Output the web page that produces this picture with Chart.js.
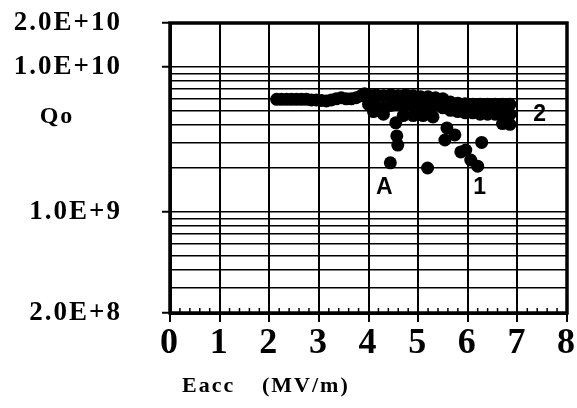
<!DOCTYPE html>
<html><head><meta charset="utf-8">
<script src="https://cdn.jsdelivr.net/npm/chart.js@4"></script>
<style>html,body{margin:0;padding:0;background:#fff}#wrap{width:577px;height:408px;position:relative}</style>
</head><body><div id="wrap"><canvas id="c"></canvas></div>
<script>
// ---- axis definitions ----
const xTickValues = [0, 1, 2, 3, 4, 5, 6, 7, 8];
const yGridValues = [2e8, 3e8, 4e8, 5e8, 6e8, 7e8, 8e8, 9e8, 1e9, 2e9, 3e9, 4e9, 5e9, 6e9, 7e9, 8e9, 9e9, 1e10, 2e10];
const yLabelValues = [2e10, 1e10, 1e9, 2e8];
const yLabelTexts = ['2.0E+10', '1.0E+10', '1.0E+9', '2.0E+8'];
const xTitleParts = ['Eacc', '(MV/m)'];
const yTitle = 'Qo';

// ---- data: Eacc (MV/m) and Qo ----
const bandX = [2.15, 2.25, 2.35, 2.45, 2.55, 2.65, 2.75, 2.85, 2.95, 3.05, 3.15, 3.25, 3.35, 3.45, 3.55, 3.65, 3.75, 3.85, 3.92];
const bandQ = [5.95e9, 5.95e9, 5.95e9, 5.95e9, 5.95e9, 5.95e9, 5.95e9, 5.9e9, 5.9e9, 5.85e9, 5.8e9, 5.9e9, 6.0e9, 6.1e9, 6.0e9, 6.0e9, 6.1e9, 6.3e9, 6.5e9];
const topRowX = [4.0, 4.15, 4.3, 4.45, 4.6, 4.75, 4.9, 5.05, 5.2, 5.35, 5.5, 5.65, 5.8, 5.95, 6.1, 6.25, 6.4, 6.55, 6.7, 6.85];
const topRowQ = [6.4e9, 6.4e9, 6.3e9, 6.4e9, 6.3e9, 6.4e9, 6.3e9, 6.2e9, 6.2e9, 6.1e9, 6.0e9, 5.7e9, 5.6e9, 5.55e9, 5.5e9, 5.5e9, 5.5e9, 5.5e9, 5.5e9, 5.5e9];
const midRowX = [4.0, 4.15, 4.3, 4.45, 4.6, 4.75, 4.9, 5.05, 5.2, 5.35, 5.5, 5.65, 5.8, 5.95, 6.1, 6.25, 6.4, 6.55, 6.7, 6.85];
const midRowQ = [5.5e9, 5.4e9, 5.2e9, 5.4e9, 5.5e9, 5.4e9, 5.3e9, 5.4e9, 5.3e9, 5.4e9, 5.2e9, 5.0e9, 4.9e9, 4.8e9, 4.8e9, 4.7e9, 4.7e9, 4.7e9, 4.7e9, 4.7e9];
const lowRowX = [4.1, 4.3, 4.55, 4.7, 4.9, 5.1, 5.3, 6.7, 6.85];
const lowRowQ = [4.9e9, 4.7e9, 4.1e9, 4.6e9, 4.6e9, 4.6e9, 4.5e9, 4.05e9, 4.0e9];
const series1X = [5.58, 5.54, 5.74, 5.86, 5.96, 6.06, 6.2, 6.28];
const series1Q = [3.78e9, 3.12e9, 3.38e9, 2.58e9, 2.66e9, 2.27e9, 2.06e9, 3.0e9];
const seriesAX = [4.57, 4.59, 4.44, 5.19];
const seriesAQ = [3.33e9, 2.88e9, 2.17e9, 2.0e9];

// ---- curve labels ----
const curveLabels = ['A', '1', '2'];
const curveLabelX = [4.32, 6.24, 7.45];
const curveLabelQ = [1.46e9, 1.46e9, 4.63e9];

const toPts = (xs, ys) => xs.map((x, i) => ({x: x, y: ys[i]}));
const dotStyle = {pointRadius: 6.5, pointHoverRadius: 6.5, pointBackgroundColor: '#000', pointBorderWidth: 0, showLine: false};

const serif = '"Liberation Serif", "Times New Roman", serif';

const decor = {
  id: 'decor',
  beforeDraw(chart) {
    chart.ctx.letterSpacing = '2px';
  },
  afterDraw(chart) {
    const {ctx, chartArea: a, scales} = chart;
    ctx.save();
    // minor ticks along bottom
    ctx.strokeStyle = '#000';
    ctx.lineWidth = 1.5;
    for (let i = 0; i <= 40; i++) {
      if (i % 5 === 0) continue;
      const px = scales.x.getPixelForValue(i * 0.2);
      ctx.beginPath();
      ctx.moveTo(px, a.bottom);
      ctx.lineTo(px, a.bottom - 5);
      ctx.stroke();
    }
    // frame
    ctx.lineWidth = 3.5;
    ctx.strokeRect(a.left, a.top, a.right - a.left, a.bottom - a.top);
    // titles
    ctx.fillStyle = '#000';
    ctx.letterSpacing = '2px';
    ctx.font = 'bold 24px ' + serif;
    ctx.textBaseline = 'middle';
    ctx.textAlign = 'center';
    ctx.fillText(yTitle, 57, 117);
    ctx.textAlign = 'left';
    ctx.font = 'bold 22px ' + serif;
    ctx.fillText(xTitleParts[0], 182, 386);
    ctx.fillText(xTitleParts[1], 262, 386);
    // curve labels
    ctx.letterSpacing = '0px';
    ctx.textAlign = 'center';
    ctx.font = 'bold 23px "Liberation Sans", Arial, sans-serif';
    curveLabels.forEach((t, i) => {
      ctx.fillText(t, scales.x.getPixelForValue(curveLabelX[i]), scales.y.getPixelForValue(curveLabelQ[i]));
    });
    ctx.restore();
  }
};

new Chart(document.getElementById('c'), {
  type: 'scatter',
  data: {
    datasets: [
      Object.assign({label: 'band', data: toPts(bandX, bandQ)}, dotStyle),
      Object.assign({label: 'top', data: toPts(topRowX, topRowQ)}, dotStyle),
      Object.assign({label: 'mid', data: toPts(midRowX, midRowQ)}, dotStyle),
      Object.assign({label: 'low', data: toPts(lowRowX, lowRowQ)}, dotStyle),
      Object.assign({label: '1', data: toPts(series1X, series1Q)}, dotStyle),
      Object.assign({label: 'A', data: toPts(seriesAX, seriesAQ)}, dotStyle)
    ]
  },
  options: {
    responsive: true,
    maintainAspectRatio: false,
    animation: false,
    events: [],
    layout: {padding: {top: 23, right: 10, left: 0, bottom: 0}},
    plugins: {legend: {display: false}, tooltip: {enabled: false}},
    scales: {
      x: {
        type: 'linear', min: 0, max: 8,
        afterBuildTicks: s => { s.ticks = xTickValues.map(v => ({value: v})); },
        afterFit: s => { s.height = 95; s.paddingLeft = 0; s.paddingRight = 0; },
        ticks: {color: '#000', font: {family: serif, size: 36, weight: 'bold'}, padding: 0, autoSkip: false, maxRotation: 0},
        grid: {color: '#000', lineWidth: 2, tickLength: 9, tickColor: '#000', tickWidth: 2},
        border: {color: '#000', width: 3}
      },
      y: {
        type: 'logarithmic', min: 2e8, max: 2e10,
        afterBuildTicks: s => { s.ticks = yGridValues.map(v => ({value: v})); },
        afterFit: s => { s.width = 170; s.paddingTop = 0; s.paddingBottom = 0; },
        ticks: {
          color: '#000', font: {family: serif, size: 27, weight: 'bold'}, padding: 40, autoSkip: false,
          callback: v => { const i = yLabelValues.indexOf(v); return i >= 0 ? yLabelTexts[i] : ''; }
        },
        grid: {
          color: '#000', lineWidth: 1.5, tickLength: 8, tickWidth: 2,
          tickColor: c => (c.tick && yLabelValues.indexOf(c.tick.value) >= 0) ? '#000' : 'rgba(0,0,0,0)'
        },
        border: {color: '#000', width: 3}
      }
    }
  },
  plugins: [decor]
});
</script>
</body></html>
